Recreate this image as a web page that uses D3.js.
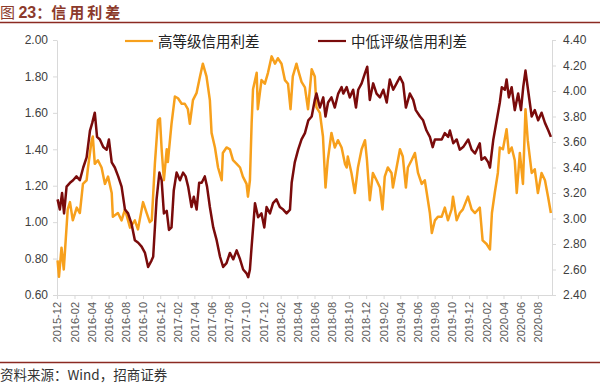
<!DOCTYPE html>
<html lang="zh">
<head>
<meta charset="UTF-8">
<title>信用利差</title>
<script src="https://d3js.org/d3.v7.min.js"></script>
<style>
  body { margin: 0; background: #fff; }
  svg { display: block; font-family: Arial, "Liberation Sans", "Noto Sans CJK SC", sans-serif; }
  .axis path, .axis line { stroke: #d9d9d9; }
  .axis text { fill: #404040; font-size: 12px; }
  .axis.x text { fill: #595959; font-size: 11px; }
</style>
</head>
<body>
<svg id="chart" width="600" height="384"></svg>
<script>
// 高等级信用利差 (left axis)
const highGrade = [
  ["2015-12-03",0.79],["2015-12-08",0.70],["2015-12-17",0.86],["2015-12-25",0.74],["2016-01-08",1.07],["2016-01-16",1.11],
  ["2016-01-26",1.01],["2016-02-09",1.08],["2016-02-20",1.05],["2016-03-02",1.21],["2016-03-15",1.23],["2016-03-20",1.30],
  ["2016-04-02",1.45],["2016-04-06",1.47],["2016-04-13",1.32],["2016-04-24",1.34],["2016-05-07",1.30],["2016-05-19",1.21],
  ["2016-05-30",1.25],["2016-06-12",1.16],["2016-06-16",1.03],["2016-07-04",1.05],["2016-07-17",1.01],["2016-07-29",1.07],
  ["2016-08-16",0.97],["2016-09-02",1.01],["2016-09-13",0.96],["2016-10-01",1.11],["2016-10-14",1.05],["2016-10-25",1.00],
  ["2016-11-01",1.01],["2016-11-12",1.32],["2016-11-23",1.56],["2016-11-30",1.57],["2016-12-06",1.40],["2016-12-14",1.23],
  ["2016-12-24",1.40],["2016-12-28",1.33],["2017-01-10",1.54],["2017-01-22",1.69],["2017-02-02",1.68],["2017-02-15",1.65],
  ["2017-02-26",1.65],["2017-03-09",1.62],["2017-03-16",1.54],["2017-03-27",1.67],["2017-04-09",1.71],["2017-04-21",1.80],
  ["2017-05-01",1.87],["2017-05-14",1.80],["2017-05-26",1.67],["2017-06-01",1.49],["2017-06-13",1.41],["2017-06-24",1.30],
  ["2017-07-07",1.23],["2017-07-11",1.38],["2017-07-24",1.41],["2017-08-05",1.40],["2017-08-16",1.34],["2017-08-29",1.32],
  ["2017-09-10",1.30],["2017-09-20",1.25],["2017-10-03",1.21],["2017-10-08",1.14],["2017-10-15",1.23],["2017-10-21",1.54],
  ["2017-10-26",1.73],["2017-11-08",1.82],["2017-11-12",1.62],["2017-11-25",1.78],["2017-12-07",1.76],["2017-12-18",1.82],
  ["2017-12-31",1.91],["2018-01-12",1.87],["2018-01-22",1.90],["2018-02-04",1.87],["2018-02-16",1.78],["2018-02-27",1.76],
  ["2018-03-08",1.62],["2018-03-16",1.80],["2018-03-29",1.87],["2018-04-03",1.84],["2018-04-16",1.77],["2018-04-28",1.74],
  ["2018-05-09",1.62],["2018-05-22",1.84],["2018-06-02",1.80],["2018-06-08",1.63],["2018-06-20",1.60],["2018-07-01",1.47],
  ["2018-07-10",1.19],["2018-07-18",1.34],["2018-07-31",1.49],["2018-08-12",1.41],["2018-08-23",1.45],["2018-09-05",1.41],
  ["2018-09-17",1.32],["2018-09-23",1.30],["2018-09-27",1.36],["2018-10-10",1.27],["2018-10-22",1.16],["2018-11-02",1.30],
  ["2018-11-15",1.40],["2018-11-27",1.45],["2018-12-04",1.34],["2018-12-14",1.12],["2018-12-25",1.27],["2019-01-07",1.23],
  ["2019-01-19",1.19],["2019-01-28",1.07],["2019-02-05",1.25],["2019-02-16",1.30],["2019-03-01",1.27],["2019-03-06",1.19],
  ["2019-03-19",1.30],["2019-03-31",1.40],["2019-04-10",1.36],["2019-04-21",1.19],["2019-04-28",1.30],["2019-05-11",1.34],
  ["2019-05-23",1.38],["2019-06-03",1.27],["2019-06-16",1.21],["2019-06-27",1.23],["2019-07-04",1.16],["2019-07-15",1.05],
  ["2019-07-22",0.94],["2019-08-02",1.01],["2019-08-13",1.03],["2019-08-26",1.03],["2019-09-06",1.08],["2019-09-17",1.01],
  ["2019-09-30",1.07],["2019-10-05",1.14],["2019-10-18",1.01],["2019-10-29",1.05],["2019-11-09",1.07],["2019-11-27",1.14],
  ["2019-12-10",1.07],["2019-12-22",1.05],["2020-01-08",1.08],["2020-01-18",0.90],["2020-02-01",0.88],["2020-02-13",0.85],
  ["2020-02-20",1.05],["2020-03-01",1.16],["2020-03-12",1.27],["2020-03-19",1.41],["2020-03-30",1.40],["2020-04-12",1.51],
  ["2020-04-20",1.38],["2020-04-30",1.41],["2020-05-11",1.34],["2020-05-18",1.16],["2020-05-29",1.38],["2020-06-09",1.21],
  ["2020-06-18",1.62],["2020-06-26",1.45],["2020-07-10",1.27],["2020-07-21",1.29],["2020-08-01",1.16],["2020-08-14",1.27],
  ["2020-08-26",1.23],["2020-09-06",1.14],["2020-09-16",1.05]
];

// 中低评级信用利差 (right axis)
const lowGrade = [
  ["2015-12-03",3.15],["2015-12-11",3.07],["2015-12-19",3.20],["2015-12-26",3.04],["2016-01-04",3.25],["2016-01-16",3.28],
  ["2016-01-27",3.30],["2016-02-08",3.33],["2016-02-20",3.30],["2016-03-03",3.40],["2016-03-15",3.48],["2016-03-27",3.69],
  ["2016-04-04",3.75],["2016-04-13",3.83],["2016-04-21",3.64],["2016-05-01",3.62],["2016-05-13",3.56],["2016-05-25",3.54],
  ["2016-06-02",3.62],["2016-06-12",3.44],["2016-06-23",3.40],["2016-07-05",3.33],["2016-07-17",3.25],["2016-07-29",3.07],
  ["2016-08-09",3.04],["2016-08-21",2.96],["2016-09-02",2.83],["2016-09-14",2.81],["2016-09-26",2.78],["2016-10-08",2.73],
  ["2016-10-19",2.62],["2016-10-31",2.67],["2016-11-06",2.70],["2016-11-18",3.15],["2016-11-28",3.36],["2016-12-06",3.30],
  ["2016-12-14",3.04],["2016-12-24",3.06],["2017-01-01",2.91],["2017-01-10",2.93],["2017-01-18",3.22],["2017-01-28",3.36],
  ["2017-02-09",3.30],["2017-02-20",3.36],["2017-03-01",3.33],["2017-03-10",3.25],["2017-03-22",3.09],["2017-03-30",3.17],
  ["2017-04-09",3.07],["2017-04-18",3.28],["2017-04-27",3.28],["2017-05-08",3.33],["2017-05-16",3.25],["2017-05-26",3.09],
  ["2017-06-07",2.93],["2017-06-19",2.83],["2017-07-01",2.70],["2017-07-12",2.62],["2017-07-24",2.65],["2017-08-05",2.73],
  ["2017-08-17",2.68],["2017-08-29",2.75],["2017-09-10",2.68],["2017-09-21",2.60],["2017-10-03",2.57],["2017-10-09",2.54],
  ["2017-10-15",2.60],["2017-10-21",2.78],["2017-11-02",3.12],["2017-11-13",3.01],["2017-11-25",3.04],["2017-12-05",2.93],
  ["2017-12-13",3.09],["2017-12-25",3.04],["2018-01-05",3.12],["2018-01-17",3.15],["2018-01-29",3.09],["2018-02-10",3.07],
  ["2018-02-22",3.04],["2018-03-06",3.07],["2018-03-12",3.28],["2018-03-23",3.44],["2018-04-04",3.54],["2018-04-16",3.62],
  ["2018-04-28",3.67],["2018-05-10",3.77],["2018-05-22",3.80],["2018-06-02",3.93],["2018-06-08",3.98],["2018-06-20",3.87],
  ["2018-07-02",3.95],["2018-07-10",3.80],["2018-07-19",3.91],["2018-07-31",3.95],["2018-08-12",3.87],["2018-08-24",3.98],
  ["2018-09-05",4.03],["2018-09-11",3.98],["2018-09-23",4.03],["2018-10-04",3.95],["2018-10-16",4.01],["2018-10-26",3.87],
  ["2018-11-03",4.01],["2018-11-15",4.06],["2018-11-27",4.14],["2018-12-05",4.19],["2018-12-14",3.93],["2018-12-26",4.06],
  ["2019-01-07",3.98],["2019-01-19",3.95],["2019-01-31",4.01],["2019-02-12",3.91],["2019-02-23",4.09],["2019-03-07",4.01],
  ["2019-03-19",4.06],["2019-03-31",4.11],["2019-04-11",4.06],["2019-04-21",3.87],["2019-05-05",3.98],["2019-05-17",3.93],
  ["2019-05-26",3.85],["2019-06-10",3.80],["2019-06-21",3.77],["2019-07-03",3.69],["2019-07-15",3.64],["2019-07-25",3.56],
  ["2019-08-02",3.62],["2019-08-14",3.62],["2019-08-26",3.62],["2019-09-06",3.67],["2019-09-18",3.64],["2019-09-24",3.69],
  ["2019-10-06",3.59],["2019-10-18",3.62],["2019-10-29",3.54],["2019-11-10",3.56],["2019-11-28",3.62],["2019-12-10",3.54],
  ["2019-12-22",3.51],["2020-01-08",3.59],["2020-01-14",3.46],["2020-01-26",3.48],["2020-02-07",3.44],["2020-02-13",3.40],
  ["2020-02-25",3.62],["2020-03-08",3.77],["2020-03-19",3.91],["2020-03-26",4.03],["2020-04-06",4.01],["2020-04-12",4.09],
  ["2020-04-20",3.95],["2020-04-30",4.03],["2020-05-11",3.85],["2020-05-23",3.98],["2020-06-02",3.85],["2020-06-10",4.03],
  ["2020-06-18",4.16],["2020-06-27",4.01],["2020-07-10",3.80],["2020-07-21",3.85],["2020-08-02",3.77],["2020-08-14",3.83],
  ["2020-08-26",3.75],["2020-09-07",3.69],["2020-09-16",3.64]
];

const monthTicks = ["2015-12","2016-02","2016-04","2016-06","2016-08","2016-10","2016-12","2017-02","2017-04","2017-06",
  "2017-08","2017-10","2017-12","2018-02","2018-04","2018-06","2018-08","2018-10","2018-12","2019-02","2019-04","2019-06",
  "2019-08","2019-10","2019-12","2020-02","2020-04","2020-06","2020-08"];
const leftTicks = [0.6, 0.8, 1.0, 1.2, 1.4, 1.6, 1.8, 2.0];
const rightTicks = [2.4, 2.6, 2.8, 3.0, 3.2, 3.4, 3.6, 3.8, 4.0, 4.2, 4.4];
const seriesNames = ["高等级信用利差", "中低评级信用利差"];
const colors = ["#f7a01c", "#7a0b0b"];

const svg = d3.select("#chart");
const plot = {left: 57, right: 552, top: 40, bottom: 295};
const parseDay = d3.timeParse("%Y-%m-%d");
const parseMonth = d3.timeParse("%Y-%m");

const x = d3.scaleTime().domain([parseDay("2015-12-01"), parseDay("2020-09-20")]).range([plot.left, plot.right]);
const yL = d3.scaleLinear().domain([0.6, 2.0]).range([plot.bottom, plot.top]);
const yR = d3.scaleLinear().domain([2.4, 4.4]).range([plot.bottom, plot.top]);

// title + rules
svg.append("text").attr("x", 0).attr("y", 18)
  .attr("fill", "#8c3a2b").attr("font-size", 15)
  .attr("font-family", "'Noto Sans CJK SC', sans-serif")
  .call(t => {
    t.append("tspan").text("图 ");
    t.append("tspan").attr("font-weight", "bold").attr("font-family", "Arial, 'Liberation Sans'").attr("font-size", 16).text("23");
    t.append("tspan").attr("font-weight", "bold").text("：");
    t.append("tspan").attr("font-weight", "bold").attr("letter-spacing", 3).text("信用利差");
  });
svg.append("line").attr("x1", 0).attr("x2", 600).attr("y1", 22.5).attr("y2", 22.5)
  .attr("stroke", "#8b2a22").attr("stroke-width", 1.5);
svg.append("line").attr("x1", 0).attr("x2", 600).attr("y1", 362.5).attr("y2", 362.5)
  .attr("stroke", "#8b2a22").attr("stroke-width", 1.5);
svg.append("text").attr("x", 0).attr("y", 380)
  .attr("fill", "#333").attr("font-size", 13.5)
  .attr("font-family", "'Noto Sans CJK SC', sans-serif")
  .text("资料来源：Wind，招商证券");

// axes
svg.append("g").attr("class", "axis")
  .attr("transform", `translate(${plot.left},0)`)
  .call(d3.axisLeft(yL).tickValues(leftTicks).tickFormat(d3.format(".2f")).tickSize(4).tickSizeOuter(0).tickPadding(5));

svg.append("g").attr("class", "axis")
  .attr("transform", `translate(${plot.right},0)`)
  .call(d3.axisRight(yR).tickValues(rightTicks).tickFormat(d3.format(".2f")).tickSize(4).tickSizeOuter(0).tickPadding(7));

const xAxis = svg.append("g").attr("class", "axis x")
  .attr("transform", `translate(0,${plot.bottom})`)
  .call(d3.axisBottom(x).tickValues(monthTicks.map(parseMonth)).tickFormat(d3.timeFormat("%Y-%m")).tickSize(4).tickSizeOuter(0));
xAxis.selectAll("text")
  .attr("transform", "rotate(-90)")
  .attr("text-anchor", "end")
  .attr("x", -7).attr("y", 0).attr("dy", "0.35em");

// lines
const lineL = d3.line().x(d => x(parseDay(d[0]))).y(d => yL(d[1]));
const lineR = d3.line().x(d => x(parseDay(d[0]))).y(d => yR(d[1]));

svg.append("path").datum(highGrade)
  .attr("fill", "none").attr("stroke", colors[0]).attr("stroke-width", 2.5)
  .attr("stroke-linejoin", "round").attr("d", lineL);
svg.append("path").datum(lowGrade)
  .attr("fill", "none").attr("stroke", colors[1]).attr("stroke-width", 2.5)
  .attr("stroke-linejoin", "round").attr("d", lineR);

// legend
const legend = svg.append("g").attr("font-family", "'Noto Sans CJK SC', sans-serif").attr("font-size", 14.5);
[[125, 0], [318, 1]].forEach(([lx, i]) => {
  legend.append("line").attr("x1", lx).attr("x2", lx + 28).attr("y1", 41).attr("y2", 41)
    .attr("stroke", colors[i]).attr("stroke-width", 2.2);
  legend.append("text").attr("x", lx + 33).attr("y", 46.5).attr("fill", "#222").text(seriesNames[i]);
});
</script>
</body>
</html>
